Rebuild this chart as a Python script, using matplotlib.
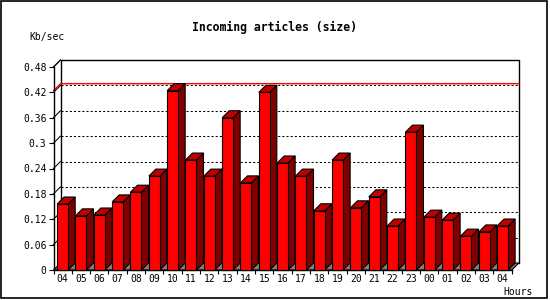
import matplotlib.pyplot as plt
from matplotlib.patches import Polygon, Rectangle

hours = ["04", "05", "06", "07", "08", "09", "10", "11", "12", "13", "14", "15", "16",
         "17", "18", "19", "20", "21", "22", "23", "00", "01", "02", "03", "04"]
kb_sec = [0.156, 0.128, 0.130, 0.161, 0.184, 0.222, 0.424, 0.260, 0.222, 0.360, 0.206,
          0.420, 0.253, 0.222, 0.140, 0.260, 0.147, 0.173, 0.104, 0.326, 0.125, 0.118,
          0.080, 0.090, 0.104]
yticks = [0, 0.06, 0.12, 0.18, 0.24, 0.3, 0.36, 0.42, 0.48]
ytick_labels = ["0", "0.06", "0.12", "0.18", "0.24", "0.3", "0.36", "0.42", "0.48"]

W, H = 550, 300
fig = plt.figure(figsize=(W / 100, H / 100), dpi=100)
fig.patch.set_facecolor("white")

# front plot area in pixels: x 53.3..511.7, y 270..67
ax = fig.add_axes([53.5 / W, 30 / H, 458.3 / W, 203 / H])
n = len(kb_sec)
ymax = 0.48
ax.set_xlim(0, n)
ax.set_ylim(0, ymax)
for s in ax.spines.values():
    s.set_visible(False)
ax.patch.set_visible(False)

# depth of the 3d effect (7 px)
dx = 7 / (458.3 / n)
dy = 7 / (203 / ymax)

mono = "DejaVu Sans Mono"
lw = 0.8

# floor
ax.add_patch(Polygon([(0, 0), (n, 0), (n + dx, dy), (dx, dy)], closed=True,
                     facecolor="#808080", edgecolor="black", lw=lw, zorder=1, clip_on=False))

# back wall grid
for v in yticks[1:-1]:
    ax.plot([dx, n + dx], [v + dy, v + dy], color="black", lw=0.75,
            dashes=(2, 2), zorder=1, clip_on=False)
    ax.plot([0, dx], [v, v + dy], color="black", lw=0.75, zorder=1, clip_on=False)

# back wall outline
ax.plot([dx, dx, n + dx, n + dx], [dy, ymax + dy, ymax + dy, dy],
        color="black", lw=1, zorder=1, clip_on=False)
# left wall
ax.plot([0, 0], [0, ymax], color="black", lw=1, zorder=4, clip_on=False)
ax.plot([0, dx], [ymax, ymax + dy], color="black", lw=1, zorder=1, clip_on=False)
ax.plot([0, n], [0, 0], color="black", lw=1, zorder=2, clip_on=False)

# max line
vmax = max(kb_sec)
ax.plot([0, dx, n + dx], [vmax, vmax + dy, vmax + dy], color="red", lw=1,
        zorder=2, clip_on=False)

# bars
off, bw = 0.2, 0.6
for i, v in enumerate(kb_sec):
    x0 = i + off
    ax.add_patch(Polygon([(x0 + bw, 0), (x0 + bw + dx, dy), (x0 + bw + dx, v + dy), (x0 + bw, v)],
                         closed=True, facecolor="#800000", edgecolor="black", lw=lw,
                         zorder=3, clip_on=False))
    ax.add_patch(Polygon([(x0, v), (x0 + bw, v), (x0 + bw + dx, v + dy), (x0 + dx, v + dy)],
                         closed=True, facecolor="#C00000", edgecolor="black", lw=lw,
                         zorder=3, clip_on=False))
    ax.add_patch(Rectangle((x0, 0), bw, v, facecolor="#FF0000", edgecolor="black",
                           lw=lw, zorder=3, clip_on=False))

# ticks
ax.set_yticks(yticks)
ax.set_yticklabels(ytick_labels, fontfamily=mono, fontsize=7)
ax.tick_params(axis="y", direction="out", length=3.6, width=0.8, pad=1.5, colors="black")
ax.set_xticks(range(n + 1))
ax.set_xticklabels([])
ax.set_xticks([i + 0.5 for i in range(n)], minor=True)
ax.set_xticklabels(hours, minor=True, fontfamily=mono, fontsize=7)
ax.tick_params(axis="x", which="major", direction="out", length=3, width=0.8)
ax.tick_params(axis="x", which="minor", length=0, pad=3)

fig.text(275 / W, 1 - 27 / H, "Incoming articles (size)", ha="center", va="center",
         fontfamily=mono, fontsize=8.3, fontweight="bold")
fig.text(29 / W, 1 - 37 / H, "Kb/sec", ha="left", va="center", fontfamily=mono, fontsize=7)
fig.text(533 / W, 1 - 292 / H, "Hours", ha="right", va="center", fontfamily=mono, fontsize=7)

# outer frame
fig.add_artist(Rectangle((0.8 / W, 2 / H), 546.5 / W, 297 / H, transform=fig.transFigure,
                         fill=False, edgecolor="black", lw=1.2))

fig.savefig("out.png", dpi=100)
